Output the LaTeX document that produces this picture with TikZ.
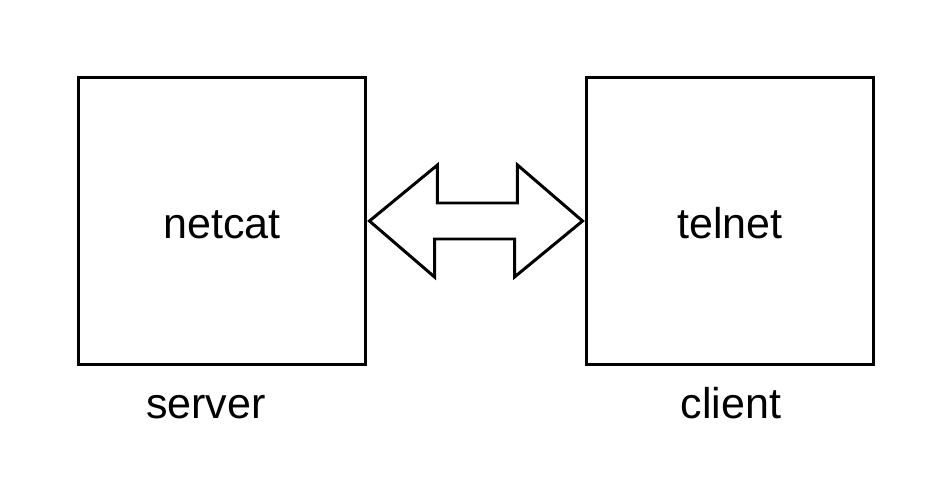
\documentclass[tikz,border=0pt]{standalone}
\usepackage{fontspec}
\setmainfont{Liberation Sans}
\begin{document}
\begin{tikzpicture}[x=0.02cm,y=-0.02cm,
  box/.style={draw=black,line width=1.7pt,minimum width=5.76cm,minimum height=5.76cm,inner sep=0pt,text height=0.72cm,text depth=0pt,font=\fontsize{24.5}{28}\selectfont},
  lbl/.style={font=\fontsize{24.5}{28}\selectfont,inner sep=0pt,anchor=base}]
\useasboundingbox (0,0) rectangle (947,483);
\node[box] (a) at (222,221) {netcat};
\node[box] (b) at (730,221) {telnet};
\node[lbl] (s) at (206,418) {server};
\node[lbl] (c) at (731,418) {client};
\draw[line width=1.7pt,line join=miter] ([xshift=0.04cm]a.east) -- ++(68,-56) -- ++(0,38) -- ++(80,0) -- ++(0,-38) -- ([xshift=-0.04cm]b.west) -- ++(-68,56) -- ++(0,-38) -- ++(-80,0) -- ++(0,38) -- cycle;
\end{tikzpicture}
\end{document}
